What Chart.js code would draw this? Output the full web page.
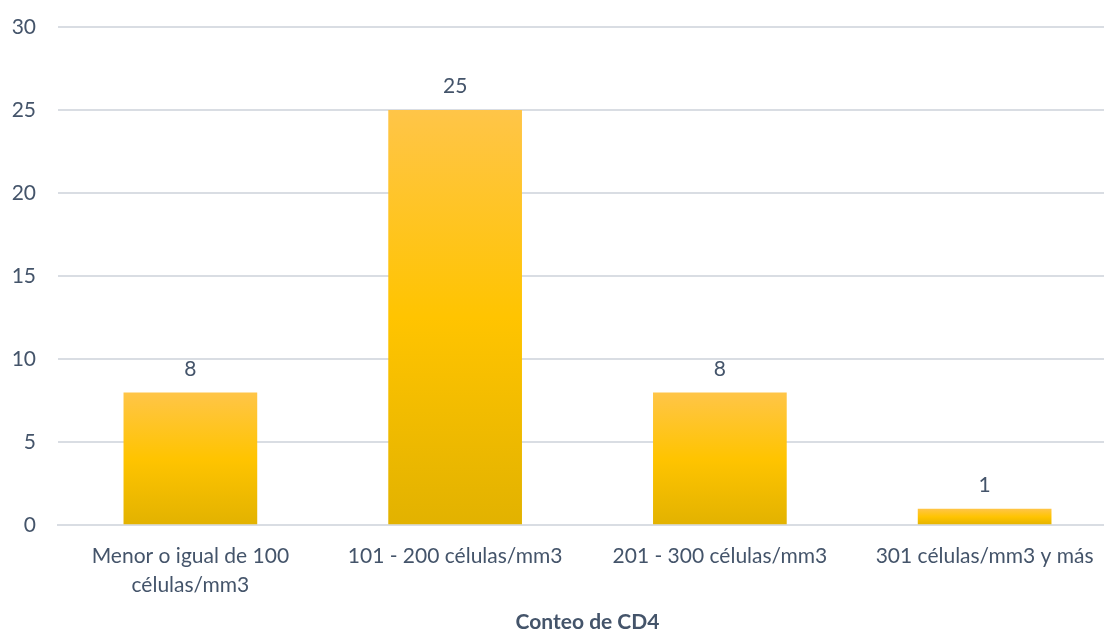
<!DOCTYPE html>
<html>
<head>
<meta charset="utf-8">
<script src="https://cdn.jsdelivr.net/npm/chart.js@4/dist/chart.umd.min.js"></script>
<style>
  html, body { margin: 0; padding: 0; background: #fff; overflow: hidden; }
  #wrap { width: 1117px; height: 633px; }
</style>
</head>
<body>
<div id="wrap"><canvas id="cd4Chart"></canvas></div>
<script>
// Conteo de CD4 por rango
const categories = [
    ['Menor o igual de 100', 'células/mm3'],
    '101 - 200 células/mm3',
    '201 - 300 células/mm3',
    '301 células/mm3 y más'
];
const counts = [8, 25, 8, 1];
const yTicks = [0, 5, 10, 15, 20, 25, 30];

const textColor = '#44546A';
const gridColor = '#D9DDE3';
const fontFamily = "Lato, 'Open Sans', sans-serif";
const fontSize = 21;

// vertical gradient fitted to each bar's own height
function barGradient(context) {
    const chart = context.chart;
    const yScale = chart.scales.y;
    if (!chart.chartArea || !yScale || context.raw === undefined) return '#FFC000';
    const top = yScale.getPixelForValue(context.raw);
    const bottom = yScale.getPixelForValue(0);
    if (!isFinite(top) || !isFinite(bottom) || top === bottom) return '#FFC000';
    const g = chart.ctx.createLinearGradient(0, top, 0, bottom);
    g.addColorStop(0, '#FFC548');
    g.addColorStop(0.5, '#FFC400');
    g.addColorStop(1, '#E2B200');
    return g;
}

// value labels above the bars
const valueLabels = {
    id: 'valueLabels',
    afterDatasetsDraw(chart) {
        const ctx = chart.ctx;
        const meta = chart.getDatasetMeta(0);
        ctx.save();
        ctx.fillStyle = textColor;
        ctx.font = `${fontSize}px ${fontFamily}`;
        ctx.textAlign = 'center';
        ctx.textBaseline = 'bottom';
        meta.data.forEach((bar, i) => {
            ctx.fillText(String(counts[i]), bar.x, bar.y - 13);
        });
        ctx.restore();
    }
};

const ctx = document.getElementById('cd4Chart').getContext('2d');
new Chart(ctx, {
    type: 'bar',
    data: {
        labels: categories,
        datasets: [{
            data: counts,
            backgroundColor: barGradient,
            borderWidth: 0,
            categoryPercentage: 1,
            barPercentage: 0.505
        }]
    },
    options: {
        responsive: true,
        maintainAspectRatio: false,
        animation: false,
        layout: { padding: { top: 27, right: 0, bottom: 0, left: 0 } },
        plugins: {
            legend: { display: false },
            tooltip: { enabled: false }
        },
        scales: {
            x: {
                grid: { display: false, drawTicks: false },
                border: { display: true, color: gridColor, width: 2 },
                ticks: {
                    color: textColor,
                    font: { family: fontFamily, size: fontSize, lineHeight: 1.35 },
                    padding: 17,
                    maxRotation: 0,
                    autoSkip: false
                },
                title: {
                    display: true,
                    text: 'Conteo de CD4',
                    color: textColor,
                    font: { family: fontFamily, size: 21, weight: 'bold', lineHeight: 1.0 },
                    padding: { top: -4, bottom: 0 }
                }
            },
            y: {
                min: 0,
                max: 30,
                afterBuildTicks(axis) {
                    axis.ticks = yTicks.map(v => ({ value: v }));
                },
                afterFit(axis) {
                    axis.width = 58;
                    axis.paddingTop = 0;
                    axis.paddingBottom = 0;
                },
                grid: { color: gridColor, lineWidth: 2, drawTicks: false },
                border: { display: false },
                ticks: {
                    color: textColor,
                    font: { family: fontFamily, size: fontSize },
                    padding: 22
                }
            }
        }
    },
    plugins: [valueLabels]
});
</script>
</body>
</html>
